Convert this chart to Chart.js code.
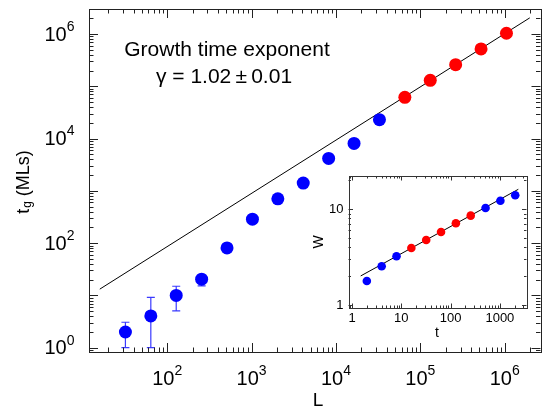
<!DOCTYPE html>
<html><head><meta charset="utf-8">
<script src="https://cdn.jsdelivr.net/npm/chart.js@4/dist/chart.umd.min.js"></script>
<style>
html,body{margin:0;padding:0;background:#fff;}
#wrap{position:relative;width:547px;height:409px;overflow:hidden;}
canvas{position:absolute;left:0;top:0;}
</style>
</head><body>
<div id="wrap"><canvas id="main" width="547" height="409"></canvas><canvas id="inset" width="547" height="409"></canvas></div>
<script>
// ---- main panel data ----
const LBlue  = [32, 64, 128, 256, 512, 1024, 2048, 4096, 8192, 16384, 32768];
const tgBlue = [2.0, 4.05, 10, 20.5, 81, 288, 706, 1410, 4180, 8090, 23000];
const LRed   = [65536, 131072, 262144, 524288, 1048576];
const tgRed  = [61500, 130000, 260000, 520000, 1035000];
const errLow  = [1.0, 1.0, 5.05, 15.2];
const errHigh = [3.07, 9.2, 15, 24];
const fitL  = [15.9, 1.98e6];
const fitTg = [13.2, 2.04e6];
const xTickExp = [2, 3, 4, 5, 6];
const yTickExp = [0, 2, 4, 6];
// ---- inset data ----
const tBlueA = [2, 4, 8];
const wBlueA = [1.79, 2.55, 3.24];
const tRed   = [16, 32, 64, 128, 256];
const wRed   = [3.95, 4.78, 5.79, 7.13, 8.56];
const tBlueB = [512, 1024, 2048];
const wBlueB = [10.3, 12.25, 13.95];
const fitT = [1.5, 2366];
const fitW = [2.02, 16.1];
const insetXTicks = [1, 10, 100, 1000];
const insetYTicks = [1, 10];

const FONT = '"Liberation Sans", Arial, Helvetica, sans-serif';
const BLUE = '#0000ff', RED = '#ff0000';

function pts(xs, ys){ return xs.map((x,i)=>({x:x, y:ys[i]})); }

function logTicks(ctx, scale, area, horiz, majLen, minLen){
  const lo = Math.floor(Math.log10(scale.min)) , hi = Math.ceil(Math.log10(scale.max));
  ctx.beginPath();
  for (let k = lo; k <= hi; k++){
    for (let m = 1; m <= 9; m++){
      const v = m * Math.pow(10, k);
      if (v < scale.min || v > scale.max) continue;
      const p = Math.round(scale.getPixelForValue(v)) + 0.5;
      const len = m === 1 ? majLen : minLen;
      if (horiz){
        ctx.moveTo(p, area.bottom); ctx.lineTo(p, area.bottom - len);
        ctx.moveTo(p, area.top); ctx.lineTo(p, area.top + len);
      } else {
        ctx.moveTo(area.left, p); ctx.lineTo(area.left + len, p);
        ctx.moveTo(area.right, p); ctx.lineTo(area.right - len, p);
      }
    }
  }
  ctx.stroke();
}

function supLabel(ctx, base, sup, x, y, align, bf, sf, raise){
  ctx.font = bf; const wb = ctx.measureText(base).width;
  ctx.font = sf; const ws = ctx.measureText(sup).width;
  const x0 = align === 'center' ? x - (wb + ws) / 2 : align === 'right' ? x - wb - ws : x;
  ctx.textAlign = 'left'; ctx.textBaseline = 'middle';
  ctx.font = bf; ctx.fillText(base, x0, y);
  ctx.font = sf; ctx.fillText(sup, x0 + wb, y - raise);
}

const mainPlugin = {
  id: 'mainDeco',
  beforeDatasetsDraw(chart){
    const ctx = chart.ctx, xs = chart.scales.x, ys = chart.scales.y;
    ctx.save();
    ctx.strokeStyle = '#3a3aff'; ctx.lineWidth = 1.2;
    ctx.beginPath();
    for (let i = 0; i < errLow.length; i++){
      const x = xs.getPixelForValue(LBlue[i]);
      const y1 = ys.getPixelForValue(errLow[i]), y2 = ys.getPixelForValue(errHigh[i]);
      ctx.moveTo(x, y1); ctx.lineTo(x, y2);
      ctx.moveTo(x - 4, y1); ctx.lineTo(x + 4, y1);
      ctx.moveTo(x - 4, y2); ctx.lineTo(x + 4, y2);
    }
    ctx.stroke();
    ctx.restore();
  },
  afterDraw(chart){
    const ctx = chart.ctx, a = chart.chartArea, xs = chart.scales.x, ys = chart.scales.y;
    ctx.save();
    ctx.strokeStyle = '#222'; ctx.lineWidth = 1;
    ctx.strokeRect(Math.round(a.left) + 0.5, Math.round(a.top) + 0.5, Math.round(a.right - a.left), Math.round(a.bottom - a.top));
    logTicks(ctx, xs, a, true, 9, 4.5);
    logTicks(ctx, ys, a, false, 9, 4.5);
    ctx.fillStyle = '#000';
    const bf = '20px ' + FONT, sf = '14px ' + FONT;
    xTickExp.forEach(e => {
      supLabel(ctx, '10', String(e), xs.getPixelForValue(Math.pow(10, e)), 379, 'center', bf, sf, 8);
    });
    yTickExp.forEach(e => {
      supLabel(ctx, '10', String(e), 74.5, ys.getPixelForValue(Math.pow(10, e)) + 1, 'right', bf, sf, 8);
    });
    // x title
    ctx.font = '19px ' + FONT; ctx.textAlign = 'center'; ctx.textBaseline = 'middle';
    ctx.fillText('L', 318, 401);
    // y title rotated
    ctx.save();
    ctx.translate(24, 182); ctx.rotate(-Math.PI / 2);
    const f1 = '18px ' + FONT, f2 = '12px ' + FONT;
    ctx.font = f1; const w1 = ctx.measureText('t').width, w3 = ctx.measureText(' (MLs)').width;
    ctx.font = f2; const w2 = ctx.measureText('g').width + 1;
    let x0 = -(w1 + w2 + w3) / 2;
    ctx.textAlign = 'left';
    ctx.font = f1; ctx.fillText('t', x0, 0);
    ctx.font = f2; ctx.fillText('g', x0 + w1 + 1, 4);
    ctx.font = f1; ctx.fillText(' (MLs)', x0 + w1 + w2, 0);
    ctx.restore();
    // annotation
    ctx.font = '21px ' + FONT; ctx.textAlign = 'center'; ctx.textBaseline = 'middle';
    ctx.fillText('Growth time exponent', 227, 50);
    ctx.fillText('\u03b3 = 1.02\u2009\u00b1\u20090.01', 224, 77);
    ctx.restore();
  }
};

const insetPlugin = {
  id: 'insetDeco',
  beforeDraw(chart){
    const ctx = chart.ctx, a = chart.chartArea;
    ctx.save(); ctx.fillStyle = '#fff';
    ctx.fillRect(a.left, a.top, a.right - a.left, a.bottom - a.top);
    ctx.restore();
  },
  afterDraw(chart){
    const ctx = chart.ctx, a = chart.chartArea, xs = chart.scales.x, ys = chart.scales.y;
    ctx.save();
    ctx.strokeStyle = '#333'; ctx.lineWidth = 1;
    ctx.strokeRect(Math.round(a.left) + 0.5, Math.round(a.top) + 0.5, Math.round(a.right - a.left), Math.round(a.bottom - a.top));
    logTicks(ctx, xs, a, true, 4.5, 2.5);
    logTicks(ctx, ys, a, false, 4.5, 2.5);
    ctx.fillStyle = '#000';
    ctx.font = '13px ' + FONT; ctx.textBaseline = 'middle';
    ctx.textAlign = 'center';
    insetXTicks.forEach(v => ctx.fillText(String(v), xs.getPixelForValue(v), 318.5));
    ctx.textAlign = 'right';
    insetYTicks.forEach(v => ctx.fillText(String(v), 343.5, ys.getPixelForValue(v) + 0.5));
    ctx.font = '14px ' + FONT; ctx.textAlign = 'center';
    ctx.fillText('t', 437, 333);
    ctx.save(); ctx.translate(319, 242); ctx.rotate(-Math.PI / 2);
    ctx.fillText('W', 0, 0); ctx.restore();
    ctx.restore();
  }
};

const common = {
  responsive: false, animation: false, devicePixelRatio: 1, events: [],
  plugins: { legend: { display: false }, tooltip: { enabled: false } }
};

function axis(min, max, size, horiz){
  const o = { type: 'logarithmic', min: min, max: max, bounds: 'data',
    ticks: { display: false }, grid: { display: false }, border: { display: false } };
  o.afterFit = horiz ? (s => { s.height = size; }) : (s => { s.width = size; });
  return o;
}

function dots(xs, ys, color, r){
  return { data: pts(xs, ys), backgroundColor: color, borderColor: color, order: 0,
    pointBackgroundColor: color, pointBorderColor: color, pointBorderWidth: 0, borderWidth: 0, pointRadius: r };
}
function fitLine(xs, ys){
  return { data: pts(xs, ys), showLine: true, borderColor: '#000', borderWidth: 1, pointRadius: 0, order: 5 };
}

new Chart(document.getElementById('main'), {
  type: 'scatter',
  data: { datasets: [
    fitLine(fitL, fitTg),
    dots(LBlue, tgBlue, BLUE, 6.5),
    dots(LRed, tgRed, RED, 6.5)
  ]},
  options: Object.assign({}, common, {
    layout: { padding: { top: 9, right: 0, left: 0, bottom: 0 } },
    scales: {
      x: axis(Math.pow(10, 1.0736), Math.pow(10, 6.424), 57, true),
      y: axis(Math.pow(10, -0.082), Math.pow(10, 6.479), 89, false)
    }
  }),
  plugins: [mainPlugin]
});

new Chart(document.getElementById('inset'), {
  type: 'scatter',
  data: { datasets: [
    fitLine(fitT, fitW),
    dots(tBlueA, wBlueA, BLUE, 4.3),
    dots(tRed, wRed, RED, 4.3),
    dots(tBlueB, wBlueB, BLUE, 4.3)
  ]},
  options: Object.assign({}, common, {
    layout: { padding: { top: 176, right: 20.5, left: 348.5, bottom: 101 } },
    scales: {
      x: axis(Math.pow(10, -0.071), Math.pow(10, 3.54), 0, true),
      y: axis(Math.pow(10, -0.028), Math.pow(10, 1.345), 0, false)
    }
  }),
  plugins: [insetPlugin]
});
</script>
</body></html>
